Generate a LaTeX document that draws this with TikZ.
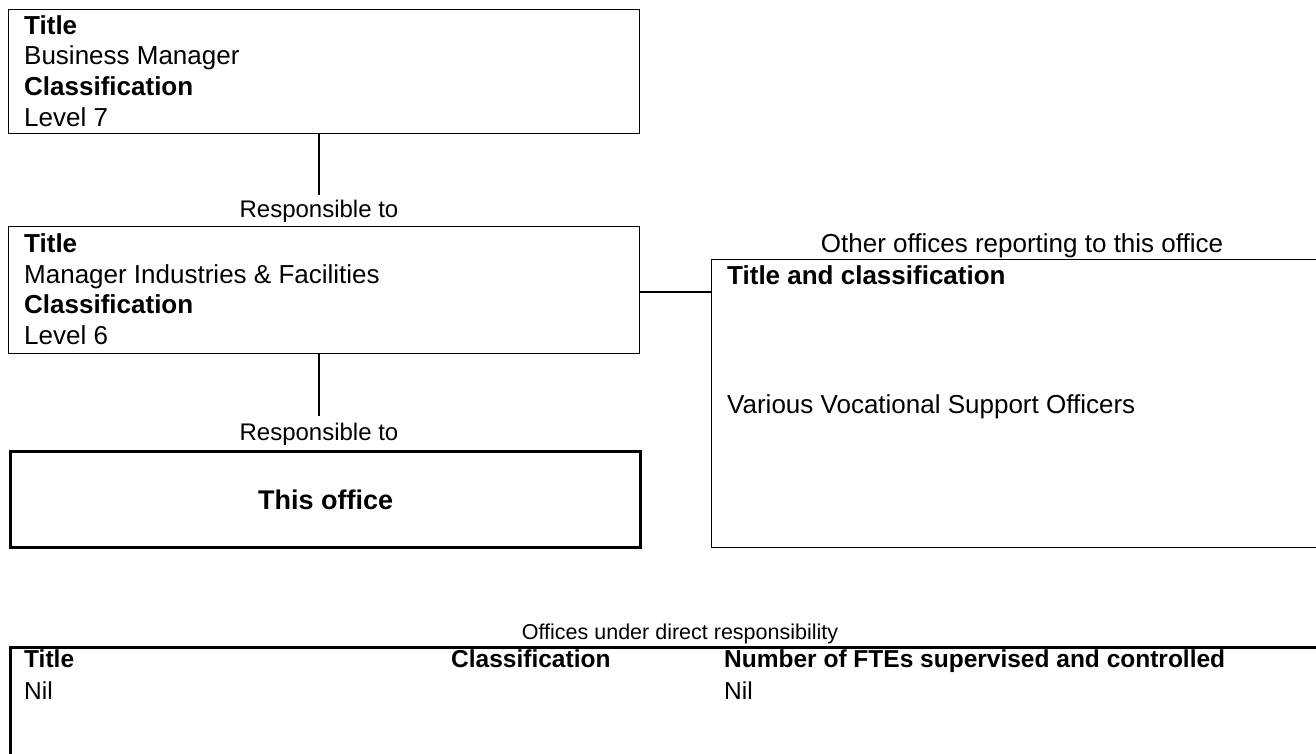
\documentclass[tikz,border=0pt]{standalone}
\usepackage{fontspec}
\setmainfont{Liberation Sans}
\begin{document}
\begin{tikzpicture}[x=1pt,y=-1pt,
  thinbox/.style={draw, line width=1.4pt, inner sep=0pt, anchor=north west},
  thickbox/.style={draw, line width=3.2pt, inner sep=0pt, anchor=north west},
  txt/.style={anchor=base west, inner sep=0pt, font=\fontsize{26}{30}\selectfont},
  btxt/.style={anchor=base west, inner sep=0pt, font=\fontsize{26}{30}\selectfont\bfseries},
  lab/.style={anchor=base, inner sep=0pt, font=\fontsize{24}{28}\selectfont},
  stxt/.style={anchor=base west, inner sep=0pt, font=\fontsize{24.5}{29}\selectfont},
  sbtxt/.style={anchor=base west, inner sep=0pt, font=\fontsize{24.5}{29}\selectfont\bfseries},
  conn/.style={line width=1.4pt}]
\useasboundingbox (0,0) rectangle (1316,753);
\clip (0,0) rectangle (1316,753);
\fill[white] (0,0) rectangle (1316,753);
% boxes
\node[thinbox, minimum width=631pt, minimum height=124pt] (b1) at (8,9) {};
\node[thinbox, minimum width=631pt, minimum height=127pt] (b2) at (8,226) {};
\node[thickbox, minimum width=630pt, minimum height=96pt] (b3) at (9,450) {};
\node[thinbox, minimum width=700pt, minimum height=288pt] (rb) at (711,259) {};
\node[thickbox, minimum width=1400pt, minimum height=200pt] (tbl) at (9,646) {};
% box 1 text
\node[btxt] (t1a) at (24,34) {Title};
\node[txt]  (t1b) at (24,64) {Business Manager};
\node[btxt] (t1c) at (24,95) {Classification};
\node[txt]  (t1d) at (24,126) {Level 7};
% box 2 text
\node[btxt] (t2a) at (24,252) {Title};
\node[txt]  (t2b) at (24,283) {Manager Industries \& Facilities};
\node[btxt] (t2c) at (24,313) {Classification};
\node[txt]  (t2d) at (24,344) {Level 6};
% box 3 text
\node[font=\fontsize{27}{31}\selectfont\bfseries, inner sep=0pt] (t3) at (b3.center) {This office};
% labels
\node[lab] (r1) at (319,217) {Responsible to};
\node[lab] (r2) at (319,440) {Responsible to};
\node[anchor=base, inner sep=0pt, font=\fontsize{26}{30}\selectfont] (oo) at (1022,252) {Other offices reporting to this office};
% right box text
\node[btxt] (rba) at (727,284) {Title and classification};
\node[txt]  (rbb) at (727,413) {Various Vocational Support Officers};
% connectors
\coordinate (c1) at (319,195);
\coordinate (c2) at (319,416);
\draw[conn] (b1.south -| c1) -- (c1);
\draw[conn] (b2.south -| c2) -- (c2);
\coordinate (c3) at (639,292);
\draw[conn] (c3) -- (rb.west |- c3);
% bottom table
\node[anchor=base, inner sep=0pt, font=\fontsize{21.5}{26}\selectfont] (od) at (680,639) {Offices under direct responsibility};
\node[sbtxt] (h1) at (24,667) {Title};
\node[sbtxt] (h2) at (451,667) {Classification};
\node[sbtxt] (h3) at (724,667) {Number of FTEs supervised and controlled};
\node[stxt] (n1) at (24,699) {Nil};
\node[stxt] (n3) at (724,699) {Nil};
\end{tikzpicture}
\end{document}
